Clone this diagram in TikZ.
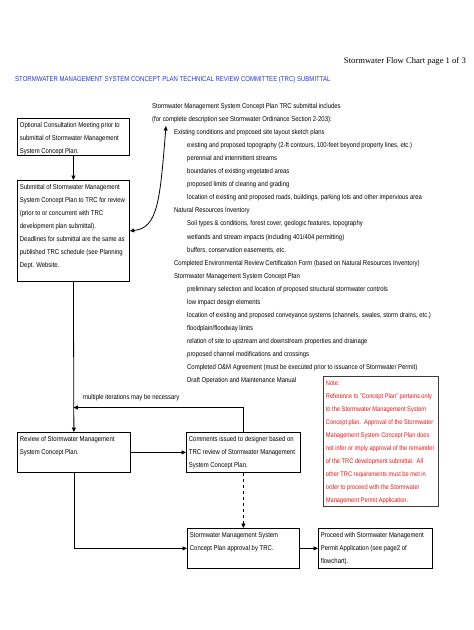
\documentclass[tikz,border=0pt]{standalone}
\usepackage{fontspec}
\setmainfont{Liberation Sans}[FakeStretch=0.85]
\newfontfamily\hdrfont{Liberation Serif}
\usetikzlibrary{arrows.meta}
\definecolor{ttlblue}{RGB}{40,50,225}
\definecolor{notered}{RGB}{235,20,20}
\definecolor{boxgray}{RGB}{60,60,60}
\newcommand{\bx}[3]{\parbox[c][#2pt][t]{\dimexpr#1pt-5pt\relax}{\begin{tabular}[t]{@{}l@{}}#3\end{tabular}}}
\begin{document}
\begin{tikzpicture}[x=1pt,y=-1pt,
  every node/.style={font=\fontsize{7}{13}\selectfont, inner sep=0pt},
  flowbox/.style={draw, line width=0.8pt, anchor=north west, inner xsep=2.5pt, inner ysep=0pt},
  conn/.style={line width=0.8pt, -{Triangle[length=4.5pt,width=4pt]}},
  txt/.style={anchor=base west},
]
\useasboundingbox (0,0) rectangle (474,630);

% header and title
\node[anchor=base east, font=\hdrfont\fontsize{8.6}{10}\selectfont] (hdr) at (466,63) {Stormwater Flow Chart page 1 of 3};
\node[txt, text=ttlblue, font=\fontsize{7.1}{8}\selectfont] (title) at (15,81.5) {STORMWATER MANAGEMENT SYSTEM CONCEPT PLAN TECHNICAL REVIEW COMMITTEE (TRC) SUBMITTAL};

% boxes
\node[flowbox] (b1) at (17,118) {\bx{112}{37}{Optional Consultation Meeting prior to\\submittal of Stormwater Management\\System Concept Plan.}};
\node[flowbox] (b2) at (17,180) {\bx{112}{101}{Submittal of Stormwater Management\\System Concept Plan to TRC for review\\(prior to or concurrent with TRC\\development plan submittal).\\Deadlines for submittal are the same as\\published TRC schedule (see Planning\\Dept. Website.}};
\node[flowbox] (rev) at (17,432) {\bx{113}{40}{Review of Stormwater Management\\System Concept Plan.}};
\node[flowbox] (com) at (186,432) {\bx{114}{40}{Comments issued to designer based on\\TRC review of Stormwater Management\\System Concept Plan.}};
\node[flowbox] (appr) at (187,528) {\bx{112}{40}{Stormwater Management System\\Concept Plan approval by TRC.}};
\node[flowbox] (proc) at (318,528) {\bx{114}{40}{Proceed with Stormwater Management\\Permit Application (see page2 of\\flowchart).}};
\node[flowbox, draw=boxgray, text=notered, font=\fontsize{6.7}{13}\selectfont] (note) at (323,376) {\bx{115}{130}{Note:\\Reference to "Concept Plan" pertains only\\to the Stormwater Management System\\Concept plan.\ \ Approval of the Stormwater\\Management System Concept Plan does\\not infer or imply approval of the remainder\\of the TRC development submittal.\ \ All\\other TRC requirements must be met in\\order to proceed with the Stormwater\\Management Permit Application.}};

% list of submittal contents
\foreach \i/\xx/\t in {
 0/152/{Stormwater Management System Concept Plan TRC submittal includes},
 1/152/{(for complete description see Stormwater Ordinance Section 2-203):},
 2/174/{Existing conditions and proposed site layout sketch plans},
 3/187/{existing and proposed topography (2-ft contours, 100-feet beyond property lines, etc.)},
 4/187/{perennial and intermittent streams},
 5/187/{boundaries of existing vegetated areas},
 6/187/{proposed limits of clearing and grading},
 7/187/{location of existing and proposed roads, buildings, parking lots and other impervious area},
 8/174/{Natural Resources Inventory},
 9/187/{Soil types \& conditions, forest cover, geologic features, topography},
 10/187/{wetlands and stream impacts (including 401/404 permitting)},
 11/187/{buffers, conservation easements, etc.},
 12/174/{Completed Environmental Review Certification Form (based on Natural Resources Inventory)},
 13/174/{Stormwater Management System Concept Plan},
 14/187/{preliminary selection and location of proposed structural stormwater controls},
 15/187/{low impact design elements},
 16/187/{location of existing and proposed conveyance systems (channels, swales, storm drains, etc.)},
 17/187/{floodplain/floodway limits},
 18/187/{relation of site to upstream and downstream properties and drainage},
 19/187/{proposed channel modifications and crossings},
 20/187/{Completed O\&M Agreement (must be executed prior to issuance of Stormwater Permit)},
 21/187/{Draft Operation and Maintenance Manual}}
 {\node[txt] (l\i) at (\xx,108.5+13.05*\i) {\t};}

\node[txt] (iterlbl) at (83,399) {multiple iterations may be necessary};

% connectors
\coordinate (ctop) at (166,126);
\coordinate (iter) at (b2.south |- 0,407.5);
\draw[conn] (b1.south) -- (b2.north);
\draw[conn] (b2.south) -- (rev.north);
\draw[line width=0.8pt, {Triangle[length=4.5pt,width=4pt]}-{Triangle[length=4.5pt,width=4pt]}]
  (ctop) .. controls (160,200) and (158,228) .. (b2.east);
\draw[conn] (rev.east) -- (com.west);
\draw[conn] (com.north) |- (iter);
\draw[conn, dashed] (com.south) -- (appr.north);
\draw[conn] (rev.south) |- (appr.west);
\draw[conn] (appr.east) -- (proc.west);
\end{tikzpicture}
\end{document}
